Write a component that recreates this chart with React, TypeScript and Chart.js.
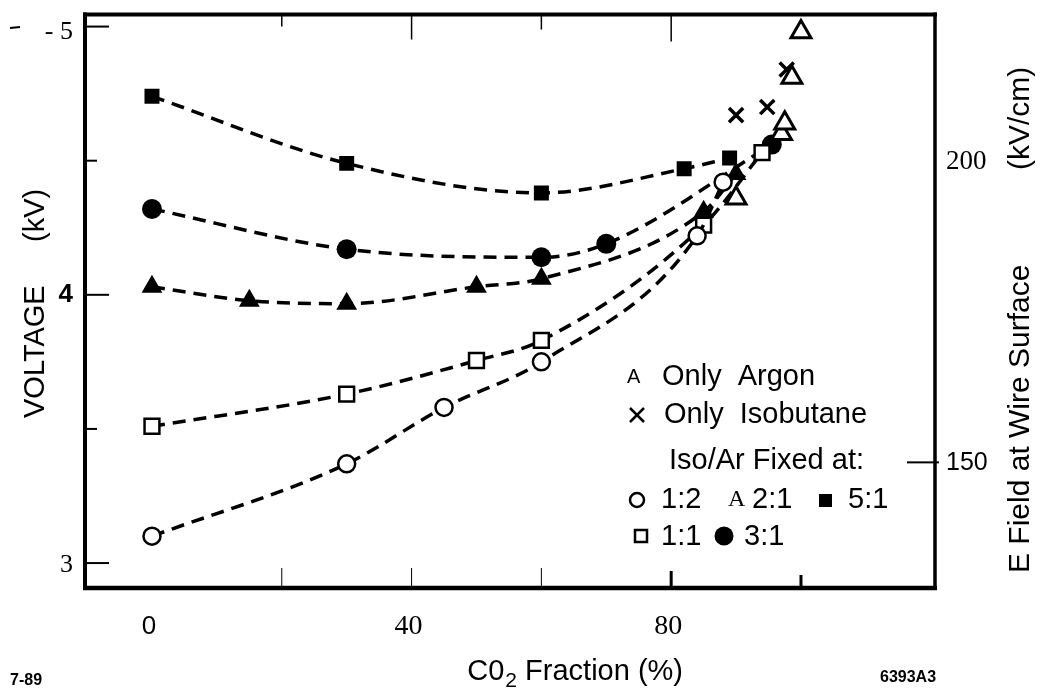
import React, { useEffect, useRef } from "react";
import { Chart, registerables } from "chart.js";

Chart.register(...registerables);

// ---- data (CO2 fraction %, voltage kV) ----
const ratio12X = [0, 30, 45, 60, 84, 88];
const ratio12V = [3.1, 3.37, 3.58, 3.75, 4.22, 4.42];
const ratio11X = [0, 30, 50, 60, 85, 94];
const ratio11V = [3.51, 3.63, 3.755, 3.83, 4.26, 4.53];
const ratio21X = [0, 15, 30, 50, 60, 85, 90];
const ratio21V = [4.03, 3.978, 3.967, 4.03, 4.06, 4.31, 4.45];
const ratio31X = [0, 30, 60, 70, 95.5];
const ratio31V = [4.32, 4.17, 4.14, 4.19, 4.56];
const ratio51X = [0, 30, 60, 82, 89];
const ratio51V = [4.74, 4.49, 4.38, 4.47, 4.51];
const argonX = [90, 97, 97.5, 98.6, 100];
const argonV = [4.36, 4.6, 4.64, 4.81, 4.98];
const isoX = [90, 94.8, 97.8];
const isoV = [4.67, 4.7, 4.84];

// ---- axes ----
const xMin = -10.32;
const xMax = 120.65;
const vMin = 2.907;
const vMax = 5.045;
const eFieldPerKV = 44.44;
const xTickValues = [0, 40, 80];
const xTickLabels = ["0", "40", "80"];
const xMarkValues = [20, 40, 60, 80, 100];
const xTopMarkValues = [20, 40, 60, 80];
const vTickValues = [5, 4, 3];
const vTickLabels = ["- 5", "4", "3"];
const vMarkValues = [5, 4.5, 4, 3.5, 3];
const eTickValues = [200, 150];
const eTickLabels = ["200", "150"];

const SANS = '"Liberation Sans", Arial, Helvetica, sans-serif';
const SERIF = '"Liberation Serif", "Times New Roman", serif';

function txt(ctx: CanvasRenderingContext2D, s: string, x: number, y: number, font: string, align: CanvasTextAlign = "left") {
  ctx.font = font;
  ctx.textAlign = align;
  ctx.textBaseline = "middle";
  ctx.fillText(s, x, y);
}

function line(ctx: CanvasRenderingContext2D, x1: number, y1: number, x2: number, y2: number, w: number) {
  ctx.lineWidth = w;
  ctx.beginPath();
  ctx.moveTo(x1, y1);
  ctx.lineTo(x2, y2);
  ctx.stroke();
}

const decor = {
  id: "decor",
  afterDraw(chart: any) {
    const { ctx, chartArea: a, scales } = chart;
    const sx = scales.x, sy = scales.y, se = scales.y2;
    ctx.save();
    ctx.strokeStyle = "#000";
    ctx.fillStyle = "#000";
    ctx.lineCap = "butt";

    // frame
    line(ctx, a.left, a.top - 2, a.left, a.bottom + 2, 4);
    line(ctx, a.left - 2, a.top, a.right + 2, a.top, 4);
    line(ctx, a.left - 2, a.bottom, a.right + 2, a.bottom, 4.5);
    line(ctx, a.right, a.top - 2, a.right, a.bottom + 2, 3.5);

    // left tick marks
    vMarkValues.forEach((v) => {
      const py = sy.getPixelForValue(v);
      const len = Number.isInteger(v) ? 24 : 12;
      line(ctx, a.left, py, a.left + len, py, 2);
    });
    // bottom tick marks
    const botLen: Record<number, number> = { 20: 20, 40: 20, 60: 20, 80: 17, 100: 13 };
    const botW: Record<number, number> = { 20: 1, 40: 1, 60: 1, 80: 3, 100: 3 };
    xMarkValues.forEach((v) => {
      const px = sx.getPixelForValue(v);
      line(ctx, px, a.bottom, px, a.bottom - botLen[v], botW[v]);
    });
    // top tick marks
    const topLen: Record<number, number> = { 20: 12, 40: 25, 60: 15, 80: 27 };
    xTopMarkValues.forEach((v) => {
      const px = sx.getPixelForValue(v);
      line(ctx, px, a.top, px, a.top + topLen[v], 1.5);
    });
    // right tick mark at 150
    const p150 = se.getPixelForValue(150);
    line(ctx, a.right - 28, p150, a.right + 4, p150, 2);

    // tick labels
    xTickValues.forEach((v, i) => {
      const px = sx.getPixelForValue(v);
      const f = i === 0 ? `26px ${SANS}` : `28px ${SERIF}`;
      txt(ctx, xTickLabels[i], px - 3, 627, f, "center");
    });
    vTickValues.forEach((v, i) => {
      const py = sy.getPixelForValue(v);
      const f = i === 1 ? `bold 26px ${SANS}` : `26px ${SERIF}`;
      const dy = i === 0 ? 6 : i === 2 ? 2 : 0;
      txt(ctx, vTickLabels[i], a.left - 12, py + dy, f, "right");
    });
    eTickValues.forEach((v, i) => {
      const py = se.getPixelForValue(v);
      const f = i === 0 ? `27px ${SERIF}` : `25px ${SANS}`;
      txt(ctx, eTickLabels[i], a.right + 11, py + 1, f, "left");
    });
    // stray mark near top-left
    line(ctx, 10, 28, 20, 27, 2);

    // left axis title
    ctx.save();
    ctx.translate(36, 418);
    ctx.rotate(-Math.PI / 2);
    txt(ctx, "VOLTAGE", 0, 0, `29px ${SANS}`, "left");
    txt(ctx, "(kV)", 176, 0, `29px ${SANS}`, "left");
    ctx.restore();

    // right axis title
    ctx.save();
    ctx.translate(1021, 573);
    ctx.rotate(-Math.PI / 2);
    txt(ctx, "E Field at Wire Surface", 0, 0, `30px ${SANS}`, "left");
    txt(ctx, "(kV/cm)", 403, 0, `30px ${SANS}`, "left");
    ctx.restore();

    // x axis title: C0_2 Fraction (%)
    {
      const main = `29px ${SANS}`;
      const sub = `21px ${SANS}`;
      ctx.font = main;
      const w1 = ctx.measureText("C0").width;
      const w3 = ctx.measureText(" Fraction (%)").width;
      ctx.font = sub;
      const w2 = ctx.measureText("2").width;
      const right = 682;
      const start = right - (w1 + w2 + w3);
      txt(ctx, "C0", start, 672, main, "left");
      txt(ctx, "2", start + w1 + 1, 681, sub, "left");
      txt(ctx, " Fraction (%)", start + w1 + w2 + 1, 672, main, "left");
    }

    // legend block
    const lf = `29px ${SANS}`;
    txt(ctx, "A", 627, 377, `20px ${SANS}`, "left");
    txt(ctx, "Only  Argon", 662, 377, lf, "left");
    // x mark
    line(ctx, 630, 408, 644, 422, 2.5);
    line(ctx, 644, 408, 630, 422, 2.5);
    txt(ctx, "Only  Isobutane", 664, 415, lf, "left");
    txt(ctx, "Iso/Ar Fixed at:", 669, 461, lf, "left");
    // row 4
    ctx.lineWidth = 2.5;
    ctx.beginPath();
    ctx.arc(637, 500, 7, 0, Math.PI * 2);
    ctx.stroke();
    txt(ctx, "1:2", 661, 500, lf, "left");
    txt(ctx, "A", 728, 500, `24px ${SERIF}`, "left");
    txt(ctx, "2:1", 752, 500, lf, "left");
    ctx.fillRect(819, 494, 13, 13);
    txt(ctx, "5:1", 848, 500, lf, "left");
    // row 5
    ctx.lineWidth = 2.5;
    ctx.strokeRect(635, 530, 12, 12);
    txt(ctx, "1:1", 661, 537, lf, "left");
    ctx.beginPath();
    ctx.arc(724, 536, 9.5, 0, Math.PI * 2);
    ctx.fill();
    txt(ctx, "3:1", 744, 537, lf, "left");

    // corner notes
    txt(ctx, "7-89", 10, 681, `bold 16px ${SANS}`, "left");
    txt(ctx, "6393A3", 880, 678, `bold 16px ${SANS}`, "left");

    ctx.restore();
  },
};

function pts(xs: number[], ys: number[]) {
  return xs.map((v, i) => ({ x: v, y: ys[i] }));
}

export default function App() {
  const ref = useRef<HTMLCanvasElement>(null);
  useEffect(() => {
    const canvas = ref.current;
    if (!canvas) return;
    const dashed = {
      showLine: true,
      borderColor: "#000",
      borderWidth: 3.5,
      borderDash: [13, 8],
      cubicInterpolationMode: "monotone",
      pointBorderColor: "#000",
    };
    const chart = new Chart(canvas, {
      type: "scatter",
      data: {
        datasets: [
          { label: "Only Argon", data: pts(argonX, argonV), showLine: false, pointStyle: "triangle", pointRadius: 11.5, pointBorderWidth: 3, pointBorderColor: "#000", pointBackgroundColor: "#fff" },
          { label: "Only Isobutane", data: pts(isoX, isoV), showLine: false, pointStyle: "crossRot", pointRadius: 10, pointBorderWidth: 3.5, pointBorderColor: "#000", pointBackgroundColor: "#000" },
          { label: "1:2", data: pts(ratio12X, ratio12V), ...dashed, pointStyle: "circle", pointRadius: 8.5, pointBorderWidth: 2.5, pointBackgroundColor: "#fff" },
          { label: "1:1", data: pts(ratio11X, ratio11V), ...dashed, pointStyle: "rect", pointRadius: 10.5, pointBorderWidth: 2.5, pointBackgroundColor: "#fff" },
          { label: "2:1", data: pts(ratio21X, ratio21V), ...dashed, pointStyle: "triangle", pointRadius: 12, pointBorderWidth: 0, pointBackgroundColor: "#000" },
          { label: "3:1", data: pts(ratio31X, ratio31V), ...dashed, pointStyle: "circle", pointRadius: 10, pointBorderWidth: 0, pointBackgroundColor: "#000" },
          { label: "5:1", data: pts(ratio51X, ratio51V), ...dashed, pointStyle: "rect", pointRadius: 10.6, pointBorderWidth: 0, pointBackgroundColor: "#000" },
        ] as any,
      },
      options: {
        animation: false,
        responsive: false,
        events: [],
        layout: { padding: { left: 85, top: 13, right: 109, bottom: 101 } },
        plugins: { legend: { display: false }, tooltip: { enabled: false } },
        scales: {
          x: { type: "linear", display: false, min: xMin, max: xMax },
          y: { type: "linear", display: false, min: vMin, max: vMax },
          y2: { type: "linear", display: false, min: vMin * eFieldPerKV, max: vMax * eFieldPerKV },
        },
      } as any,
      plugins: [decor],
    });
    return () => chart.destroy();
  }, []);
  return (
    <div style={{ position: "fixed", left: 0, top: 0, width: 1044, height: 689, background: "#fff" }}>
      <canvas ref={ref} width={1044} height={689} />
    </div>
  );
}
